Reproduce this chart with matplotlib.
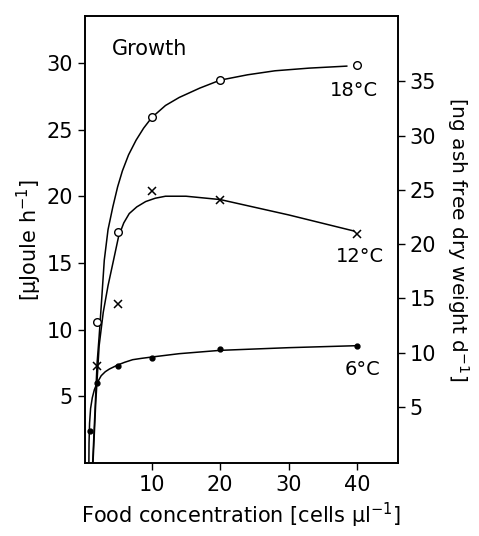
import matplotlib.pyplot as plt

# measured points (food concentration in cells/ul, growth in uJoule/h)
x_18 = [2, 5, 10, 20, 40]
y_18 = [10.6, 17.3, 25.9, 28.7, 29.85]
x_12 = [2, 5, 10, 20, 40]
y_12 = [7.3, 11.9, 20.4, 19.7, 17.2]
x_6 = [1, 2, 5, 10, 20, 40]
y_6 = [2.4, 6.0, 7.3, 7.9, 8.55, 8.75]

# hand drawn fitted curves
cx_18 = [1.35, 1.7, 2.0, 2.3, 2.7, 3.05, 3.6, 4.3, 5.0, 5.7, 6.6, 7.7, 8.8, 10, 12, 14, 17, 20, 24, 28, 33, 38.5]
cy_18 = [0, 4, 7.5, 9.5, 12.5, 15.2, 17.5, 19.2, 20.7, 21.9, 23.1, 24.2, 25.1, 25.9, 26.8, 27.4, 28.1, 28.7, 29.1, 29.4, 29.6, 29.75]
cx_12 = [1.4, 1.8, 2.3, 2.9, 3.6, 4.4, 5.15, 5.9, 6.7, 7.8, 9.1, 10.5, 12, 15, 20, 30, 39.5]
cy_12 = [0, 4.5, 8.8, 11.3, 13.3, 15.2, 17.0, 18.0, 18.7, 19.2, 19.6, 19.85, 20.0, 20.0, 19.75, 18.6, 17.4]
cx_6 = [0.8, 0.82, 0.9, 1.05, 1.3, 1.6, 2.0, 2.6, 3.2, 3.8, 5.0, 6.0, 7.2, 8.5, 10, 14, 20, 30, 40]
cy_6 = [0, 1.5, 3.0, 4.1, 4.9, 5.5, 6.0, 6.55, 6.85, 7.05, 7.35, 7.55, 7.75, 7.85, 7.95, 8.2, 8.45, 8.65, 8.8]

xticks = [10, 20, 30, 40]
yticks_left = [5, 10, 15, 20, 25, 30]
yticks_right = [5, 10, 15, 20, 25, 30, 35]

plt.rcParams['font.family'] = ['DejaVu Sans']
plt.rcParams['mathtext.fontset'] = 'dejavusans'

fig = plt.figure(figsize=(4.79, 5.36), dpi=100)
ax = fig.add_axes([0.177, 0.136, 0.654, 0.834])

ax.plot(cx_18, cy_18, color='black', lw=1.1)
ax.plot(cx_12, cy_12, color='black', lw=1.1)
ax.plot(cx_6, cy_6, color='black', lw=1.1)
ax.plot(x_18, y_18, 'o', mfc='white', mec='black', ms=5.5, mew=1.0)
ax.plot(x_12, y_12, 'x', color='black', ms=6, mew=1.1)
ax.plot(x_6, y_6, 'o', color='black', ms=3.5)

ax.set_xlim(0.2, 46)
ax.set_ylim(0, 33.5)
ax.set_xticks(xticks)
ax.set_yticks(yticks_left)
ax.tick_params(direction='out', length=5, width=1.0, labelsize=15, colors='black')
for s in ax.spines.values():
    s.set_linewidth(1.2)

ax.text(4.2, 31.0, 'Growth', fontsize=15, va='center', ha='left')
ax.text(39.6, 27.9, '18°C', fontsize=14, va='center', ha='center')
ax.text(40.4, 15.5, '12°C', fontsize=14, va='center', ha='center')
ax.text(40.8, 7.0, '6°C', fontsize=14, va='center', ha='center')

ax.set_xlabel('Food concentration [cells µl$^{-1}$]', fontsize=15, labelpad=4)
ax.set_ylabel('[µJoule h$^{-1}$]', fontsize=15, labelpad=2)

ax2 = ax.twinx()
ax2.set_ylim(-0.16, 41.0)
ax2.set_yticks(yticks_right)
ax2.tick_params(direction='out', length=5, width=1.0, labelsize=15, colors='black')
ax2.set_ylabel('[ng ash free dry weight d$^{-1}$]', fontsize=14.5, rotation=-90, labelpad=25)
for s in ax2.spines.values():
    s.set_linewidth(1.2)

fig.savefig('out.png', dpi=100)
